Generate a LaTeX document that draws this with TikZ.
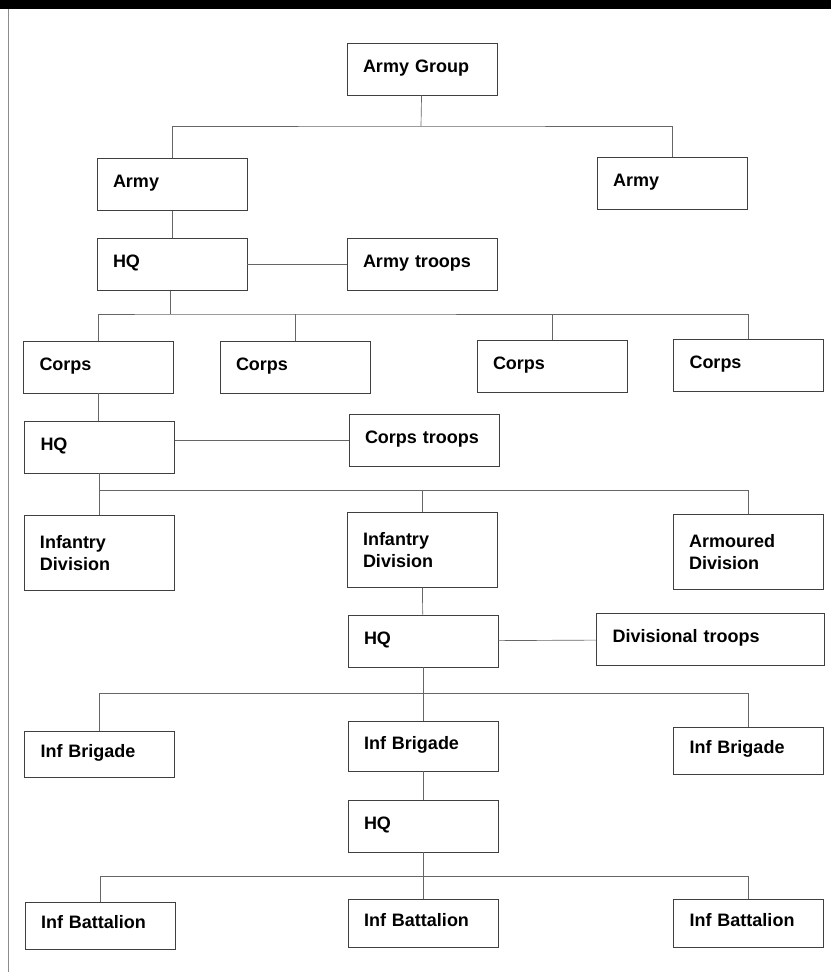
\documentclass[tikz,border=0pt]{standalone}
\usepackage{fontspec}
\setmainfont{Liberation Sans}
\usepackage{tikz}
\usetikzlibrary{positioning}

\begin{document}
\begin{tikzpicture}[
        x=0.75pt, y=-0.75pt,
        box/.style={draw=black!75, line width=0.5pt, rectangle, minimum width=112.5pt, minimum height=39pt,
                    inner xsep=12pt, text width=88.5pt, align=left, text height=9.5pt, text depth=5pt,
                    font=\fontsize{13.5}{16.5}\selectfont\bfseries},
        tallbox/.style={box, text height=, text depth=, minimum height=56pt},
        widebox/.style={box, minimum width=171pt, text width=147pt},
        link/.style={draw=black!60, line width=0.5pt}
    ]
        \useasboundingbox (0,0) rectangle (831,972);
        % Header band and margin
        \fill[black] (0,0) rectangle (831,9);
        \draw[black!45, line width=0.6pt] (8,9) -- (8,972);

        % Army group level
        \node (ag) [box] at (422,69) {Army Group};
        \node (army1) [box] at (172,184.5) {Army};
        \node (army2) [box] at (672,183.5) {Army};

        % Army HQ
        \node (hq1) [box] at (172,264.5) {HQ};
        \node (armytr) [box] at (422,264) {Army troops};

        % Corps
        \node (corps1) [box] at (98.5,367) {Corps};
        \node (corps2) [box] at (295,367) {Corps};
        \node (corps3) [box] at (552,366) {Corps};
        \node (corps4) [box] at (748.5,365.5) {Corps};
        \node (hq2) [box] at (99.5,447) {HQ};
        \node (corpstr) [box] at (424,440.5) {Corps troops};

        % Divisions
        \node (infdiv1) [tallbox] at (99,553) {Infantry\\Division};
        \node (infdiv2) [tallbox] at (422,550) {Infantry\\Division};
        \node (armdiv) [tallbox] at (748,552) {Armoured\\Division};
        \node (hq3) [box] at (423,641) {HQ};
        \node (divtr) [widebox] at (710.5,639.5) {Divisional troops};

        % Brigades
        \node (infbde1) [box, minimum height=34.5pt] at (99.5,754) {Inf Brigade};
        \node (infbde2) [box, minimum height=37.5pt] at (423,746) {Inf Brigade};
        \node (infbde3) [box, minimum height=35pt] at (748.5,750.5) {Inf Brigade};
        \node (hq4) [box] at (423,826) {HQ};

        % Battalions
        \node (infbn1) [box, minimum height=35pt] at (100,925.5) {Inf Battalion};
        \node (infbn2) [box, minimum height=36pt] at (423,923) {Inf Battalion};
        \node (infbn3) [box, minimum height=36pt] at (748.5,923) {Inf Battalion};

        % Bus lines
        \coordinate (bus1) at (421,126);
        \coordinate (bus2) at (170,314);
        \coordinate (bus3) at (99,490);
        \coordinate (bus4) at (423,693);
        \coordinate (bus5) at (423,876);

        % Connections
        \draw [link] (ag) -- (bus1);
        \draw [link] (army1) |- (bus1) -| (army2);
        \draw [link] (army1) -- (hq1);
        \draw [link] (hq1.east |- armytr) -- (armytr);
        \draw [link] (hq1.south -| bus2) -- (bus2);
        \draw [link] (corps1) |- (bus2) -| (corps4);
        \draw [link] (corps2.north) -- (corps2.north |- bus2);
        \draw [link] (corps3.north) -- (corps3.north |- bus2);
        \draw [link] (corps1.south) -- (corps1.south |- hq2.north);
        \draw [link] (hq2.east |- corpstr) -- (corpstr);
        \draw [link] (hq2.south -| bus3) -- (infdiv1.north -| bus3);
        \draw [link] (bus3) -| (armdiv);
        \draw [link] (infdiv2.north) -- (infdiv2.north |- bus3);
        \draw [link] (infdiv2) -- (hq3);
        \draw [link] (hq3) -- (divtr);
        \draw [link] (hq3) -- (infbde2);
        \draw [link] (infbde1) |- (bus4) -| (infbde3);
        \draw [link] (infbde2) -- (hq4);
        \draw [link] (hq4) -- (infbn2);
        \draw [link] (infbn1) |- (bus5) -| (infbn3);
    \end{tikzpicture}
\end{document}
